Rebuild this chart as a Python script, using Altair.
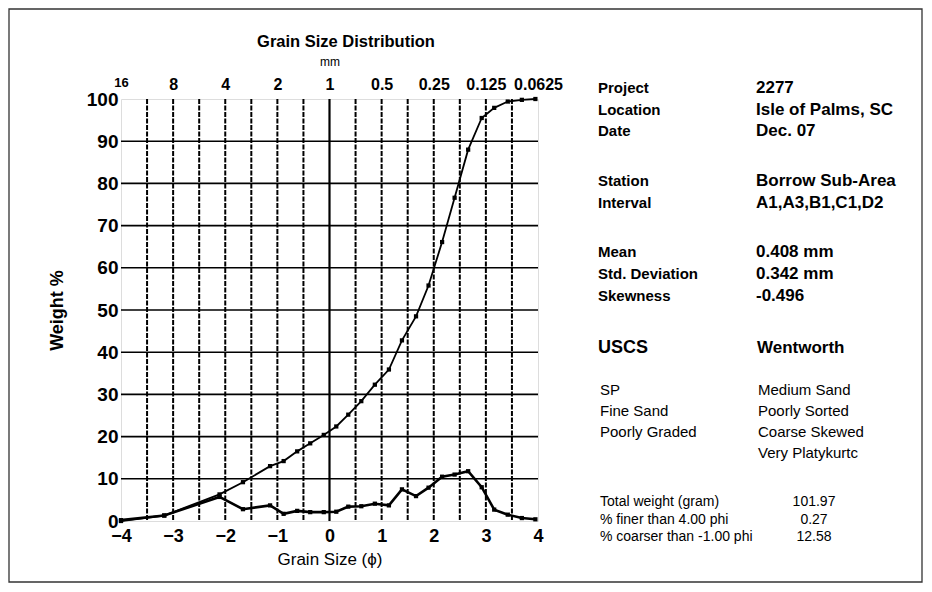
import altair as alt
import pandas as pd

# ---------------- data ----------------
phi = [-4.0, -3.17, -2.11, -1.66, -1.14, -0.88, -0.62, -0.37, -0.11, 0.13, 0.36,
       0.61, 0.87, 1.14, 1.39, 1.66, 1.90, 2.16, 2.40, 2.66, 2.92, 3.16, 3.42, 3.69, 3.95]
cumulative = [0.0, 1.3, 6.3, 9.2, 13.0, 14.2, 16.5, 18.4, 20.4, 22.4, 25.2,
              28.4, 32.3, 35.9, 42.8, 48.5, 55.8, 66.1, 76.6, 88.0, 95.5, 97.9, 99.4, 99.8, 100.0]
frequency = [0.2, 1.3, 5.7, 2.8, 3.7, 1.7, 2.4, 2.1, 2.1, 2.2, 3.4,
             3.5, 4.1, 3.7, 7.5, 5.9, 7.9, 10.5, 11.0, 11.8, 8.0, 2.7, 1.5, 0.7, 0.4]

phi_ticks = [-4, -3, -2, -1, 0, 1, 2, 3, 4]
mm_labels = ["16", "8", "4", "2", "1", "0.5", "0.25", "0.125", "0.0625"]
weight_ticks = [0, 10, 20, 30, 40, 50, 60, 70, 80, 90, 100]
half_phi_grid = [-3.5, -3, -2.5, -2, -1.5, -1, -0.5, 0.5, 1, 1.5, 2, 2.5, 3, 3.5]
hgrid = [10, 20, 30, 40, 50, 60, 70, 80, 90]

meta_keys = ["Project", "Location", "Date", "Station", "Interval",
             "Mean", "Std. Deviation", "Skewness"]
meta_vals = ["2277", "Isle of Palms, SC", "Dec. 07", "Borrow Sub-Area", "A1,A3,B1,C1,D2",
             " 0.408 mm", " 0.342 mm", "-0.496"]
class_heads = ["USCS", "Wentworth"]
uscs = ["SP", "Fine Sand", "Poorly Graded"]
wentworth = ["Medium Sand", "Poorly Sorted", "Coarse Skewed", "Very Platykurtc"]
stats_keys = ["Total weight (gram)", "% finer than 4.00 phi", "% coarser than -1.00 phi"]
stats_vals = ["101.97", "0.27", "12.58"]

# ---------------- layout ----------------
W, H = 417, 422
OX, OY = 121, 99          # absolute position of plot origin
PAD_L, PAD_T = OX - 8, OY - 8
PAD_R = 916 - PAD_L - W
PAD_B = 576 - PAD_T - H
FONT = "Liberation Sans, Arial, sans-serif"

df = pd.DataFrame({"phi": phi, "cum": cumulative, "freq": frequency})
xs = alt.Scale(domain=[-4, 4], nice=False, zero=False)
ys = alt.Scale(domain=[0, 100], nice=False)


def txt(s, ax, ay, size=16, weight="bold", align="left", angle=0):
    return alt.Chart(pd.DataFrame({"t": [s]})).mark_text(
        font=FONT, fontSize=size, fontWeight=weight, align=align,
        baseline="middle", color="black", angle=angle
    ).encode(text="t:N", x=alt.value(ax - OX), y=alt.value(ay - OY))


# grid
vgrid = alt.Chart(pd.DataFrame({"p": half_phi_grid})).mark_rule(
    color="black", strokeWidth=2, strokeDash=[5, 1.5]
).encode(x=alt.X("p:Q", scale=xs, axis=None))
zero_line = alt.Chart(pd.DataFrame({"p": [0]})).mark_rule(
    color="black", strokeWidth=2.2
).encode(x=alt.X("p:Q", scale=xs, axis=None))
hgrid_l = alt.Chart(pd.DataFrame({"w": hgrid})).mark_rule(
    color="black", strokeWidth=1.6
).encode(y=alt.Y("w:Q", scale=ys, axis=None))

base = alt.Chart(df)

cum_line = base.mark_line(color="black", strokeWidth=1.8).encode(
    x=alt.X("phi:Q", scale=xs,
            axis=alt.Axis(values=phi_ticks, title="Grain Size (ϕ)", grid=False, ticks=False,
                          domain=False, labelFont=FONT, labelFontSize=18, labelFontWeight="bold",
                          labelColor="black", labelPadding=6, labelFlush=False,
                          titleFont=FONT, titleFontSize=17, titleFontWeight="normal",
                          titleColor="black", titlePadding=6)),
    y=alt.Y("cum:Q", scale=ys,
            axis=alt.Axis(values=weight_ticks, title="Weight %", grid=False, ticks=False,
                          domain=False, labelFont=FONT, labelFontSize=19, labelFontWeight="bold",
                          labelColor="black", labelPadding=3, labelFlush=False,
                          titleFont=FONT, titleFontSize=18, titleFontWeight="bold",
                          titleColor="black", titlePadding=20)),
)
cum_pts = base.mark_point(shape="square", filled=True, size=18, color="black", opacity=1).encode(
    x=alt.X("phi:Q", scale=xs, axis=None), y=alt.Y("cum:Q", scale=ys, axis=None))

label_expr = "[" + ",".join("'" + s + "'" for s in mm_labels) + "][datum.value + 4]"
freq_line = base.mark_line(color="black", strokeWidth=2.6).encode(
    x=alt.X("phi:Q", scale=xs,
            axis=alt.Axis(orient="top", values=phi_ticks, labelExpr=label_expr, title="mm",
                          grid=False, ticks=False, domain=False, labelFont=FONT,
                          labelFontSize={"condition": {"test": "datum.value === -4", "value": 13}, "value": 16},
                          labelPadding={"condition": {"test": "datum.value === -4", "value": 9.5}, "value": 7},
                          labelFontWeight="bold", labelColor="black",
                          labelFlush=False, labelOverlap=False,
                          titleFont=FONT, titleFontSize=12, titleFontWeight="normal",
                          titleColor="black", titlePadding=8)),
    y=alt.Y("freq:Q", scale=ys, axis=None),
)
freq_pts = base.mark_point(shape="square", filled=True, size=18, color="black", opacity=1).encode(
    x=alt.X("phi:Q", scale=xs, axis=None), y=alt.Y("freq:Q", scale=ys, axis=None))

layers = [vgrid, zero_line, hgrid_l, cum_line, freq_line, cum_pts, freq_pts]

# outer frame
frame = alt.Chart(pd.DataFrame({"a": [0]})).mark_rect(
    fillOpacity=0, stroke="#333333", strokeWidth=1.3
).encode(x=alt.value(9 - OX), x2=alt.value(922 - OX), y=alt.value(9 - OY), y2=alt.value(582 - OY))
layers.append(frame)

# title
layers.append(txt("Grain Size Distribution", 346, 42, size=16.5, align="center"))

# right panel
meta_y = [88, 110, 131, 181, 203, 252, 274, 296]
for k, v, yy in zip(meta_keys, meta_vals, meta_y):
    layers.append(txt(k, 598, yy, size=15))
    layers.append(txt(v, 756, yy, size=17))
layers.append(txt(class_heads[0], 598, 348, size=18))
layers.append(txt(class_heads[1], 757, 348, size=17))
for i, s in enumerate(uscs):
    layers.append(txt(s, 600, 390 + 21 * i, size=15, weight="normal"))
for i, s in enumerate(wentworth):
    layers.append(txt(s, 758, 390 + 21 * i, size=15, weight="normal"))
for i, (k, v) in enumerate(zip(stats_keys, stats_vals)):
    layers.append(txt(k, 600, 502 + 17.5 * i, size=14, weight="normal"))
    layers.append(txt(v, 814, 502 + 17.5 * i, size=14, weight="normal", align="center"))

chart = alt.layer(*layers).resolve_axis(x="independent", y="independent").properties(
    width=W, height=H,
    autosize=alt.AutoSizeParams(type="none"),
    padding={"left": PAD_L, "top": PAD_T, "right": PAD_R, "bottom": PAD_B},
).configure_view(stroke="black", strokeWidth=2.6).configure(background="white")

chart.save("out.html", embed_options={"renderer": "svg", "actions": False})
